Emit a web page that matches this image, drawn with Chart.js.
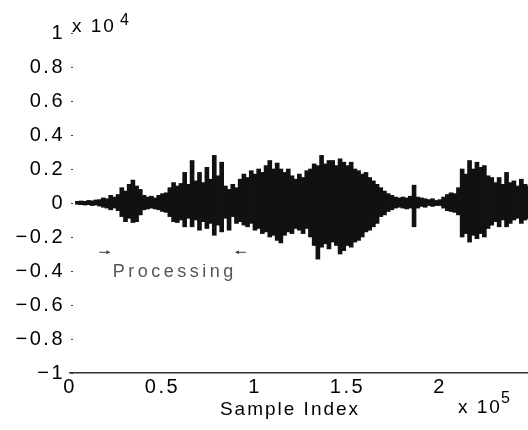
<!DOCTYPE html>
<html><head><meta charset="utf-8">
<script src="https://cdn.jsdelivr.net/npm/chart.js@4"></script>
<style>html,body{margin:0;padding:0;background:#fff}#wrap{width:528px;height:430px}</style>
</head><body><div id="wrap"><canvas id="c" width="528" height="430"></canvas></div>
<script>
// ---- data (sample index, waveform envelope) ----
const sampleIdx = [
  4000,6000,8000,10000,12000,14000,16000,18000,20000,22000,
  24000,26000,28000,30000,32000,34000,36000,38000,40000,42000,
  44000,46000,48000,50000,52000,54000,56000,58000,60000,62000,
  64000,66000,68000,70000,72000,74000,76000,78000,80000,82000,
  84000,86000,88000,90000,92000,94000,96000,98000,100000,102000,
  104000,106000,108000,110000,112000,114000,116000,118000,120000,122000,
  124000,126000,128000,130000,132000,134000,136000,138000,140000,142000,
  144000,146000,148000,150000,152000,154000,156000,158000,160000,162000,
  164000,166000,168000,170000,172000,174000,176000,178000,180000,182000,
  184000,186000,188000,190000,192000,194000,196000,198000,200000,202000,
  204000,206000,208000,210000,212000,214000,216000,218000,220000,222000,
  224000,226000,228000,230000,232000,234000,236000,238000,240000,242000,
  244000,246000,248000
];
const upperAmp = [
  100,120,100,150,130,180,200,300,250,450,
  350,500,900,700,1100,1350,1000,800,450,350,
  400,300,450,550,600,900,1200,1000,1150,1800,
  1100,2500,1300,1800,1200,2100,1400,2800,1600,2400,
  1000,800,1100,900,1400,1700,1500,1900,1700,2000,
  1800,2200,2500,2000,2350,2000,1800,2000,1600,1400,
  1700,1500,1900,2000,2300,2200,2800,2300,2500,2500,
  2200,2600,2400,2200,2400,2000,1900,1700,1800,1500,
  1300,1100,900,700,550,450,350,300,350,300,
  400,1050,350,300,250,200,250,150,200,350,
  500,600,550,900,2000,1700,2500,2000,2400,2100,
  2200,1600,1500,1200,1500,1100,1800,1200,1300,1000,
  1400,1100,1000
];
const lowerAmp = [
  -80,-100,-120,-100,-150,-120,-180,-250,-300,-400,
  -300,-450,-800,-1100,-900,-1150,-1100,-700,-400,-350,
  -300,-350,-400,-500,-550,-800,-1100,-1150,-1000,-1400,
  -900,-1400,-1000,-1600,-1100,-1500,-1200,-1900,-1300,-1700,
  -900,-1600,-800,-1200,-1100,-1300,-1400,-1200,-1600,-1500,
  -1800,-1700,-2000,-1900,-2200,-2350,-1900,-1700,-1800,-1500,
  -1600,-1800,-1500,-2000,-2500,-3300,-2600,-2400,-2700,-2300,
  -2500,-3000,-2800,-2500,-2600,-2300,-2200,-2000,-1700,-1600,
  -1400,-1200,-800,-700,-500,-400,-300,-250,-300,-350,
  -300,-1400,-300,-200,-250,-150,-200,-150,-150,-300,
  -450,-500,-550,-700,-2000,-1800,-2300,-1900,-2100,-1800,
  -2000,-1500,-1300,-1100,-1400,-1000,-1400,-1200,-1000,-900,
  -1200,-1000,-900
];
const xTickValues = [0, 50000, 100000, 150000, 200000];
const xTickLabels = ['0', '0.5', '1', '1.5', '2'];
const yTickValues = [-10000,-8000,-6000,-4000,-2000,0,2000,4000,6000,8000,10000];
const yTickLabels = ['\u22121','\u22120.8','\u22120.6','\u22120.4','\u22120.2','0','0.2','0.4','0.6','0.8','1'];
const xMax = 247600;
const processingRange = [18000, 93000];
const xLabel = 'Sample Index';
const annotationText = 'Processing';

const FONT = "'Liberation Sans', Arial, Helvetica, sans-serif";
Chart.defaults.font.family = FONT;
Chart.defaults.font.size = 20;
Chart.defaults.color = '#000';

const decor = {
  id: 'decor',
  beforeDraw(chart) { chart.ctx.letterSpacing = '2.5px'; },
  afterDraw(chart) {
    const ctx = chart.ctx, xs = chart.scales.x, ys = chart.scales.y, a = chart.chartArea;
    ctx.save();
    ctx.letterSpacing = '2px';
    // inward y tick dots
    ctx.strokeStyle = '#333'; ctx.lineWidth = 1;
    yTickValues.forEach(v => {
      const y = Math.round(ys.getPixelForValue(v)) + 0.5;
      ctx.beginPath(); ctx.moveTo(a.left + 1, y); ctx.lineTo(a.left + 3, y); ctx.stroke();
    });
    ctx.fillStyle = '#000';
    ctx.textBaseline = 'alphabetic';
    ctx.textAlign = 'left';
    // y exponent
    ctx.font = '19px ' + FONT;
    ctx.fillText('x 10', a.left + 2, ys.getPixelForValue(10000) - 1);
    ctx.font = '16px ' + FONT;
    ctx.fillText('4', a.left + 50, ys.getPixelForValue(10000) - 8);
    // x exponent
    ctx.font = '19px ' + FONT;
    ctx.fillText('x 10', xs.getPixelForValue(200000) + 18, a.bottom + 40);
    ctx.font = '16px ' + FONT;
    ctx.fillText('5', xs.getPixelForValue(200000) + 61, a.bottom + 30);
    // x axis title
    ctx.font = '19px ' + FONT;
    ctx.textAlign = 'center';
    ctx.fillText(xLabel, 290, a.bottom + 42);
    // Processing annotation
    const p0 = xs.getPixelForValue(processingRange[0]);
    const p1 = xs.getPixelForValue(processingRange[1]);
    const ay = ys.getPixelForValue(-2900);
    ctx.fillStyle = '#555';
    ctx.font = '18px ' + FONT;
    ctx.letterSpacing = '3.5px';
    ctx.fillText(annotationText, (p0 + p1) / 2 + 2, ys.getPixelForValue(-4350));
    ctx.strokeStyle = '#444'; ctx.fillStyle = '#444'; ctx.lineWidth = 1;
    ctx.beginPath(); ctx.moveTo(p0 - 4, ay); ctx.lineTo(p0 + 6, ay); ctx.stroke();
    ctx.beginPath(); ctx.moveTo(p0 + 7, ay); ctx.lineTo(p0 + 3, ay - 2); ctx.lineTo(p0 + 3, ay + 2); ctx.closePath(); ctx.fill();
    ctx.beginPath(); ctx.moveTo(p1 - 6, ay); ctx.lineTo(p1 + 4, ay); ctx.stroke();
    ctx.beginPath(); ctx.moveTo(p1 - 7, ay); ctx.lineTo(p1 - 3, ay - 2); ctx.lineTo(p1 - 3, ay + 2); ctx.closePath(); ctx.fill();
    ctx.restore();
  }
};

new Chart(document.getElementById('c'), {
  type: 'bar',
  data: {
    datasets: [{
      data: sampleIdx.map((x, i) => ({ x: x, y: [lowerAmp[i], upperAmp[i]] })),
      backgroundColor: '#111',
      borderWidth: 0,
      barThickness: 4
    }]
  },
  options: {
    responsive: false,
    animation: false,
    layout: { padding: { top: 33, right: 0, left: 0, bottom: 0 } },
    plugins: { legend: { display: false }, tooltip: { enabled: false } },
    scales: {
      x: {
        type: 'linear', min: 0, max: xMax, offset: false,
        grid: { display: false, drawTicks: false },
        border: { display: true, color: '#333', width: 1.5 },
        afterBuildTicks: s => { s.ticks = xTickValues.map(v => ({ value: v })); },
        afterFit: s => { s.height = 57; },
        ticks: {
          padding: 2, maxRotation: 0, autoSkip: false, color: '#000',
          callback: (v) => { const i = xTickValues.indexOf(v); return i >= 0 ? xTickLabels[i] : ''; }
        }
      },
      y: {
        min: -10000, max: 10000,
        grid: { display: false, drawTicks: false },
        border: { display: false },
        afterBuildTicks: s => { s.ticks = yTickValues.map(v => ({ value: v })); },
        afterFit: s => { s.width = 70; },
        ticks: {
          padding: 5, autoSkip: false, color: '#000',
          callback: (v) => { const i = yTickValues.indexOf(v); return i >= 0 ? yTickLabels[i] : ''; }
        }
      }
    }
  },
  plugins: [decor]
});
</script></body></html>
